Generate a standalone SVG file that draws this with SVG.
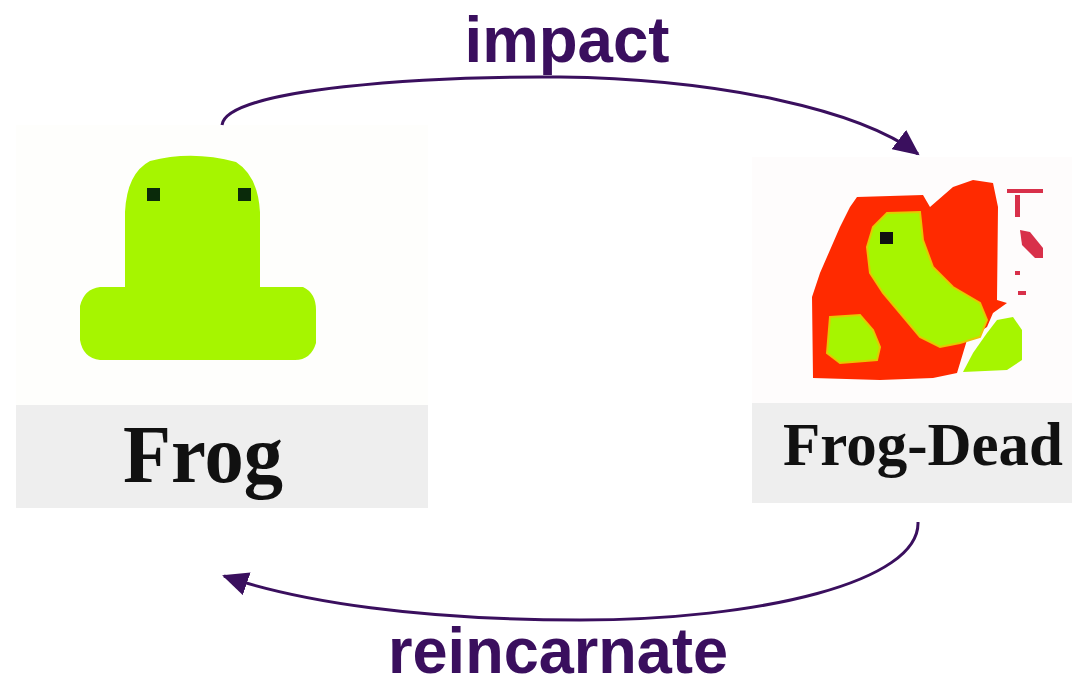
<svg xmlns="http://www.w3.org/2000/svg" width="1072" height="687" viewBox="0 0 1072 687">
  <style>
    .band { fill: #eeeeee; }
    .name { font-family: "Liberation Serif", "DejaVu Serif", serif; font-weight: bold; fill: #111111; }
    .label { font-family: "Liberation Sans", Arial, sans-serif; font-weight: bold; font-size: 64px; fill: #3a0f5e; }
    .edge { fill: none; stroke: #3a0f5e; stroke-width: 3; }
    .lime { fill: #a6f500; }
    .blood { fill: #ff2a00; }
    .splat { fill: #d8304a; }
  </style>
  <defs>
    <marker id="arrow" markerUnits="userSpaceOnUse" markerWidth="28" markerHeight="24" refX="24" refY="12" orient="auto">
      <path d="M0,0 L26,12 L0,24 Z" fill="#3a0f5e"/>
    </marker>
  </defs>

  <rect width="1072" height="687" fill="#ffffff"/>

  <!-- live frog sprite with its caption -->
  <g id="frog">
    <rect x="16" y="125" width="412" height="280" fill="#fefefc"/>
    <rect class="band" x="16" y="405" width="412" height="103"/>
    <path class="lime" d="M150,161 Q192,150 236,162 Q258,176 260,212 L260,287 L303,287 Q316,293 316,310 L316,343 Q311,360 295,360 L100,360 Q83,358 80,340 L80,306 Q84,289 100,287 L125,287 L125,212 Q127,173 150,161 Z"/>
    <rect x="147" y="188" width="13" height="13" fill="#0a2a0a"/>
    <rect x="238" y="188" width="13" height="13" fill="#0a2a0a"/>
    <text class="name" x="123" y="482" font-size="83" textLength="160" lengthAdjust="spacingAndGlyphs">Frog</text>
  </g>

  <!-- squashed frog sprite with its caption -->
  <g id="frog-dead">
    <rect x="752" y="157" width="320" height="246" fill="#fefcfc"/>
    <rect class="band" x="752" y="403" width="320" height="100"/>
    <path class="lime" d="M997,320 L1013,317 L1022,330 L1022,360 L1007,370 L963,372 L973,353 L987,333 Z"/>
    <path class="blood" d="M857,197 L923,195 L930,207 L953,187 L973,180 L993,183 L998,207 L997,300 L1007,303 L993,313 L987,327 L967,340 L957,373 L933,378 L880,380 L813,378 L812,297 L820,273 L830,250 L840,227 L850,207 Z"/>
    <path class="lime" stroke="#e6c800" stroke-width="2" d="M887,213 L920,212 L923,240 L933,267 L953,287 L980,303 L987,320 L980,337 L960,343 L940,347 L920,337 L900,313 L883,293 L870,273 L867,247 L873,227 Z"/>
    <path class="lime" stroke="#e6c800" stroke-width="2" d="M830,317 L860,315 L873,330 L880,347 L877,360 L840,363 L827,353 Z"/>
    <rect x="880" y="232" width="13" height="12" fill="#111111"/>
    <rect class="splat" x="1007" y="189" width="36" height="4"/>
    <rect class="splat" x="1015" y="195" width="5" height="22"/>
    <path class="splat" d="M1020,230 L1030,232 L1043,248 L1043,258 L1035,258 L1022,245 Z"/>
    <rect class="splat" x="1015" y="271" width="5" height="4"/>
    <rect class="splat" x="1018" y="291" width="8" height="4"/>
    <text class="name" x="783" y="465" font-size="62" textLength="280" lengthAdjust="spacingAndGlyphs">Frog-Dead</text>
  </g>

  <!-- transitions between the two states -->
  <g id="connectors">
    <path class="edge" marker-end="url(#arrow)" d="M222,125 C226,88 430,76 560,77 C720,79 860,110 918,154"/>
    <path class="edge" marker-end="url(#arrow)" d="M918,522 C920,582 760,620 580,620 C420,620 300,602 224,576"/>
    <text class="label" x="567" y="62" text-anchor="middle" textLength="205" lengthAdjust="spacingAndGlyphs">impact</text>
    <text class="label" x="558" y="673" text-anchor="middle" textLength="340" lengthAdjust="spacingAndGlyphs">reincarnate</text>
  </g>
</svg>
